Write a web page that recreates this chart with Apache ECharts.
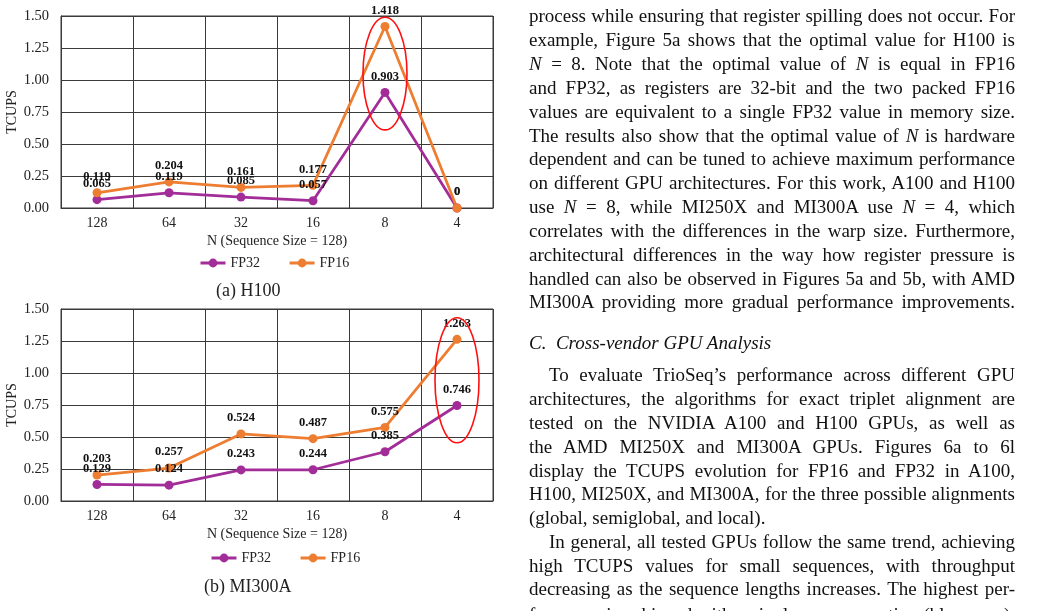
<!DOCTYPE html>
<html>
<head>
<meta charset="utf-8">
<script src="https://cdn.jsdelivr.net/npm/echarts@6/dist/echarts.min.js"></script>
<style>
  html, body { margin: 0; padding: 0; background: #fff; width: 1039px; height: 611px; overflow: hidden; }
  #chart { position: absolute; left: 0; top: 0; width: 1039px; height: 611px; }
  .ln { position: absolute; white-space: pre; font-family: 'Liberation Serif', 'Times New Roman', serif;
        font-size: 19px; line-height: 24px; height: 24px; color: #111; }
</style>
</head>
<body>
<div id="chart"></div>
<script>
// ---------------- data ----------------
const categories = ['128', '64', '32', '16', '8', '4'];
const yTicks = [0, 0.25, 0.5, 0.75, 1.0, 1.25, 1.5];
const seriesNames = ['FP32', 'FP16'];
const h100FP32 = [0.065, 0.119, 0.085, 0.057, 0.903, 0];
const h100FP16 = [0.119, 0.204, 0.161, 0.177, 1.418, 0];
const mi300aFP32 = [0.129, 0.124, 0.243, 0.244, 0.385, 0.746];
const mi300aFP16 = [0.203, 0.257, 0.524, 0.487, 0.575, 1.263];
const captions = ['(a) H100', '(b) MI300A'];
const xAxisName = 'N (Sequence Size = 128)';
const yAxisName = 'TCUPS';
// highlighted optimum (category, value range enclosed by the red ellipse)
const highlightCategory = ['8', '4'];
const highlightRange = [[0.61, 1.49], [0.455, 1.432]];

// ---------------- style ----------------
const SERIF = "'Liberation Serif', 'Times New Roman', serif";
const COLORS = { FP32: '#A22D98', FP16: '#ED7D31' };
const GRID_LINE = '#3a3a3a';

const grids = [
  { left: 61, top: 16, width: 432, height: 192 },
  { left: 61, top: 309, width: 432, height: 192 }
];

function makeX(i) {
  return {
    type: 'category', gridIndex: i, data: categories, boundaryGap: true,
    axisTick: { show: false },
    axisLine: { lineStyle: { color: GRID_LINE, width: 1 } },
    splitLine: { show: true, lineStyle: { color: GRID_LINE, width: 1 } },
    axisLabel: { fontFamily: SERIF, fontSize: 14, color: '#222', margin: 8 },
    name: xAxisName, nameLocation: 'middle', nameGap: 26,
    nameTextStyle: { fontFamily: SERIF, fontSize: 14, color: '#222' }
  };
}
function makeY(i) {
  return {
    type: 'value', gridIndex: i, min: yTicks[0], max: yTicks[yTicks.length - 1], interval: 0.25,
    axisLine: { show: true, lineStyle: { color: GRID_LINE } },
    axisTick: { show: false },
    splitLine: { show: true, lineStyle: { color: GRID_LINE, width: 1 } },
    axisLabel: { fontFamily: SERIF, fontSize: 14.5, color: '#222', margin: 12,
                 formatter: v => v.toFixed(2) },
    name: yAxisName, nameLocation: 'middle', nameGap: 42,
    nameTextStyle: { fontFamily: SERIF, fontSize: 14, color: '#222' }
  };
}
function makeSeries(name, data, gi) {
  return {
    type: 'line', name: name, data: data, xAxisIndex: gi, yAxisIndex: gi,
    symbol: 'circle', symbolSize: 9,
    itemStyle: { color: COLORS[name] },
    lineStyle: { color: COLORS[name], width: 2.75 },
    label: { show: true, position: 'top', distance: 5, formatter: p => String(p.value),
             fontFamily: SERIF, fontWeight: 'bold', fontSize: 12.5, color: '#111' },
    animation: false, z: 3
  };
}

const chart = echarts.init(document.getElementById('chart'), null, { renderer: 'canvas' });
const legendBase = {
  data: seriesNames, itemWidth: 25, itemHeight: 11, itemGap: 28, padding: 0,
  lineStyle: { width: 3 },
  textStyle: { fontFamily: SERIF, fontSize: 14, color: '#222' }, selectedMode: false
};
chart.setOption({
  animation: false,
  grid: grids.map(g => Object.assign({ show: true, borderColor: GRID_LINE, borderWidth: 1, containLabel: false }, g)),
  xAxis: [makeX(0), makeX(1)],
  yAxis: [makeY(0), makeY(1)],
  legend: [
    Object.assign({ left: 199, top: 256 }, legendBase),
    Object.assign({ left: 210, top: 551 }, legendBase)
  ],
  title: [
    { text: captions[0], left: 216, top: 282, textStyle: { fontFamily: SERIF, fontSize: 18, fontWeight: 'normal', color: '#222' }, padding: 0 },
    { text: captions[1], left: 204, top: 578, textStyle: { fontFamily: SERIF, fontSize: 18, fontWeight: 'normal', color: '#222' }, padding: 0 }
  ],
  series: [
    makeSeries('FP32', h100FP32, 0),
    makeSeries('FP16', h100FP16, 0),
    makeSeries('FP32', mi300aFP32, 1),
    makeSeries('FP16', mi300aFP16, 1)
  ]
});

// red ellipses placed through the axes' own scales
const ellipses = highlightCategory.map((cat, gi) => {
  const r = highlightRange[gi];
  const top = chart.convertToPixel({ gridIndex: gi }, [cat, r[1]]);
  const bot = chart.convertToPixel({ gridIndex: gi }, [cat, r[0]]);
  return {
    type: 'ellipse', z: 10,
    shape: { cx: top[0], cy: (top[1] + bot[1]) / 2, rx: 22, ry: (bot[1] - top[1]) / 2 },
    style: { fill: 'none', stroke: '#ff1010', lineWidth: 1.6 }
  };
});
chart.setOption({ graphic: ellipses });

// ---------------- right-hand column text ----------------
const RIGHT = 1015;
const textLines = [
  { x: 529, y: 17,  j: true, h: 'process while ensuring that register spilling does not occur. For' },
  { x: 529, y: 41,  j: true, h: 'example, Figure 5a shows that the optimal value for H100 is' },
  { x: 529, y: 65,  j: true, h: '<i>N</i> = 8. Note that the optimal value of <i>N</i> is equal in FP16' },
  { x: 529, y: 89,  j: true, h: 'and FP32, as registers are 32-bit and the two packed FP16' },
  { x: 529, y: 113, j: true, h: 'values are equivalent to a single FP32 value in memory size.' },
  { x: 529, y: 137, j: true, h: 'The results also show that the optimal value of <i>N</i> is hardware' },
  { x: 529, y: 160, j: true, h: 'dependent and can be tuned to achieve maximum performance' },
  { x: 529, y: 184, j: true, h: 'on different GPU architectures. For this work, A100 and H100' },
  { x: 529, y: 208, j: true, h: 'use <i>N</i> = 8, while MI250X and MI300A use <i>N</i> = 4, which' },
  { x: 529, y: 232, j: true, h: 'correlates with the differences in the warp size. Furthermore,' },
  { x: 529, y: 256, j: true, h: 'architectural differences in the way how register pressure is' },
  { x: 529, y: 280, j: true, h: 'handled can also be observed in Figures 5a and 5b, with AMD' },
  { x: 529, y: 303, j: true, h: 'MI300A providing more gradual performance improvements.' },
  { x: 529, y: 344, j: false, h: '<i>C.  Cross-vendor GPU Analysis</i>' },
  { x: 549, y: 376, j: true, h: 'To evaluate TrioSeq’s performance across different GPU' },
  { x: 529, y: 400, j: true, h: 'architectures, the algorithms for exact triplet alignment are' },
  { x: 529, y: 424, j: true, h: 'tested on the NVIDIA A100 and H100 GPUs, as well as' },
  { x: 529, y: 448, j: true, h: 'the AMD MI250X and MI300A GPUs. Figures 6a to 6l' },
  { x: 529, y: 472, j: true, h: 'display the TCUPS evolution for FP16 and FP32 in A100,' },
  { x: 529, y: 495, j: true, h: 'H100, MI250X, and MI300A, for the three possible alignments' },
  { x: 529, y: 519, j: false, h: '(global, semiglobal, and local).' },
  { x: 549, y: 543, j: true, h: 'In general, all tested GPUs follow the same trend, achieving' },
  { x: 529, y: 567, j: true, h: 'high TCUPS values for small sequences, with throughput' },
  { x: 529, y: 590, j: true, h: 'decreasing as the sequence lengths increases. The highest per-' },
  { x: 529, y: 616, j: true, h: 'formance is achieved with a single warp operation (blue zone).' }
];
textLines.forEach(l => {
  const d = document.createElement('div');
  d.className = 'ln';
  d.innerHTML = l.h;
  d.style.left = l.x + 'px';
  d.style.top = (l.y - 13) + 'px';
  document.body.appendChild(d);
  if (l.j) {
    const nat = d.getBoundingClientRect().width;
    const spaces = (d.textContent.match(/ /g) || []).length;
    if (spaces > 0) d.style.wordSpacing = ((RIGHT - l.x - nat) / spaces) + 'px';
  }
});
</script>
</body>
</html>
